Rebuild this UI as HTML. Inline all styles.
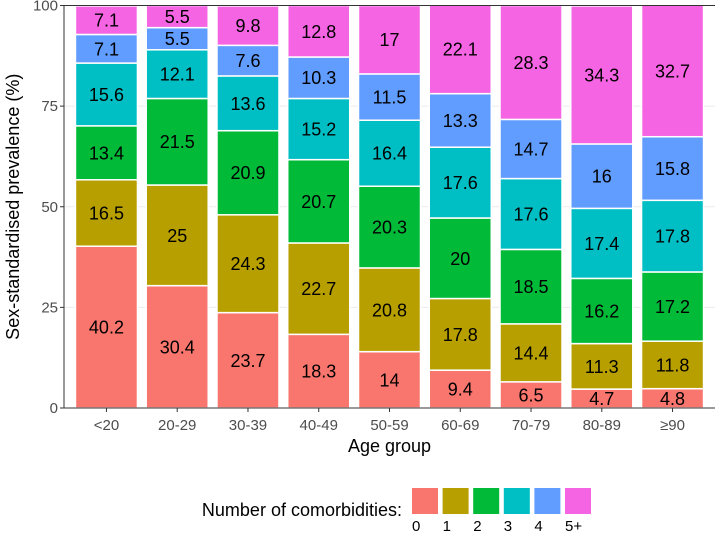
<!DOCTYPE html>
<html><head><meta charset="utf-8"><style>
body{margin:0;background:#fff}
svg{display:block;font-family:"Liberation Sans",Arial,sans-serif}
</style></head><body>
<svg id="chart" width="716" height="533" viewBox="0 0 716 533"></svg>
<script>
const categories=["<20","20-29","30-39","40-49","50-59","60-69","70-79","80-89","≥90"];
const seriesNames=["0","1","2","3","4","5+"];
const s0=[40.2,30.4,23.7,18.3,14,9.4,6.5,4.7,4.8];
const s1=[16.5,25,24.3,22.7,20.8,17.8,14.4,11.3,11.8];
const s2=[13.4,21.5,20.9,20.7,20.3,20,18.5,16.2,17.2];
const s3=[15.6,12.1,13.6,15.2,16.4,17.6,17.6,17.4,17.8];
const s4=[7.1,5.5,7.6,10.3,11.5,13.3,14.7,16,15.8];
const s5=[7.1,5.5,9.8,12.8,17,22.1,28.3,34.3,32.7];
const yTicks=[0,25,50,75,100];
const colors=["#F8766D","#B79F00","#00BA38","#00BFC4","#619CFF","#F564E3"];
const series=[s0,s1,s2,s3,s4,s5];
const NS="http://www.w3.org/2000/svg";
const svg=document.getElementById("chart");
const L=64,R=715,T=5.5,B=408;
const step=(R-L)/9.2, bw=62;
const x=i=>L+(i+0.6)*step;
const y=v=>B-(v/100)*(B-T);
function el(t,a,p){const e=document.createElementNS(NS,t);for(const k in a)e.setAttribute(k,a[k]);(p||svg).appendChild(e);return e;}
yTicks.forEach(t=>{
  const g=el("line",{x1:L,x2:R,y1:y(t),y2:y(t),stroke:"#ebebeb","stroke-width":1});
  
  
});
categories.forEach((c,i)=>{
  const g=el("line",{x1:x(i),x2:x(i),y1:T,y2:B,stroke:"#ebebeb","stroke-width":1});
  
  
});
categories.forEach((c,i)=>{
  let cum=0;
  series.forEach((s,k)=>{
    const v=s[i];
    const r=el("rect",{x:x(i)-bw/2,y:y(cum+v),width:bw,height:y(cum)-y(cum+v),fill:colors[k],stroke:"#fff","stroke-width":1.5});
    
    
    const t=el("text",{x:x(i),y:y(cum+v/2)+6.5,"text-anchor":"middle","font-size":18,fill:"#000"});
    t.textContent=String(v);
    
    
    cum+=v;
  });
});
const ax=el("path",{d:`M${L},${T} L${R},${T} M${L},${T} L${L},${B} L${R},${B}`,fill:"none",stroke:"#333","stroke-width":1});


yTicks.forEach(t=>{
  const tk=el("line",{x1:L-4,x2:L,y1:y(t),y2:y(t),stroke:"#333"});
  
  
  const lb=el("text",{x:L-6,y:y(t)+5,"text-anchor":"end","font-size":15,fill:"#4d4d4d"});
  lb.textContent=t;
  
  
});
categories.forEach((c,i)=>{
  const tk=el("line",{x1:x(i),x2:x(i),y1:B,y2:B+4,stroke:"#333"});
  
  
  const lb=el("text",{x:x(i),y:B+22,"text-anchor":"middle","font-size":15,fill:"#4d4d4d"});
  lb.textContent=c;
  
  
});
const xt=el("text",{x:(L+R)/2,y:452,"text-anchor":"middle","font-size":18,fill:"#000"});
xt.textContent="Age group";


const yt=el("text",{x:0,y:0,"text-anchor":"middle","font-size":18,fill:"#000",transform:"translate(19,"+((T+B)/2)+") rotate(-90)"});
yt.textContent="Sex-standardised prevalence (%)";


const lt=el("text",{x:402,y:516,"text-anchor":"end","font-size":18,fill:"#000"});
lt.textContent="Number of comorbidities:";


seriesNames.forEach((n,k)=>{
  const kx=412+k*30.6;
  const r=el("rect",{x:kx,y:488,width:26,height:26,fill:colors[k]});
  
  
  const t=el("text",{x:kx,y:531,"font-size":15,fill:"#000"});
  t.textContent=n;
  
  
});
</script>
</body></html>
